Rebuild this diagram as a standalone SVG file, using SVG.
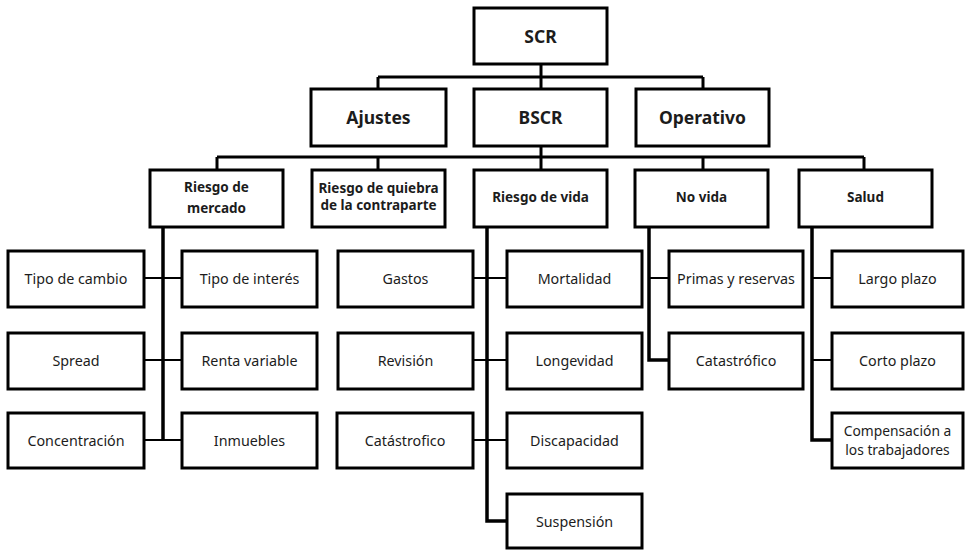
<svg xmlns="http://www.w3.org/2000/svg" width="966" height="550" viewBox="0 0 966 550">
  <style>
    .box { fill: #fff; stroke: #000; stroke-width: 3; }
    .t { font-family: "Noto Sans", "Open Sans", sans-serif; fill: #1c1c1c; text-anchor: middle; dominant-baseline: central; }
    .h1 { font-size: 17.5px; font-weight: bold; }
    .h2 { font-size: 13.5px; font-weight: bold; }
    .lf { font-size: 14.3px; }
    .lf2 { font-size: 13.8px; }
    .trunk { fill: none; stroke: #000; stroke-width: 3; }
    .spine { fill: none; stroke: #000; stroke-width: 3.5; }
    .twig { fill: none; stroke: #000; stroke-width: 2; }
  </style>

  <!-- connectors -->
  <g id="connectors">
    <path class="trunk" d="M541 64V77M378 77H703M378 77V88M703 77V88M541 77V88"/>
    <path class="trunk" d="M541 146V157M217 157H864M217 157V169M378 157V169M541 157V169M703 157V169M864 157V169"/>
    <!-- Riesgo de mercado -->
    <path class="spine" d="M163 227V440"/>
    <path class="twig" d="M144 278H182M144 360H182M144 440H182"/>
    <!-- Riesgo de vida -->
    <path class="spine" d="M487 227V521H507"/>
    <path class="twig" d="M473 278H507M473 360H507M473 440H507"/>
    <!-- No vida -->
    <path class="spine" d="M649 227V360H669"/>
    <path class="twig" d="M649 278H669"/>
    <!-- Salud -->
    <path class="spine" d="M812 227V440H832"/>
    <path class="twig" d="M812 278H832M812 360H832"/>
  </g>

  <!-- top -->
  <g id="scr"><rect class="box" x="474" y="8" width="133" height="56"/><text class="t h1" x="540.5" y="36">SCR</text></g>

  <!-- level 1 -->
  <g id="ajustes"><rect class="box" x="311" y="89" width="135" height="57"/><text class="t h1" x="378.5" y="117">Ajustes</text></g>
  <g id="bscr"><rect class="box" x="474" y="89" width="133" height="57"/><text class="t h1" x="540.5" y="117">BSCR</text></g>
  <g id="operativo"><rect class="box" x="636" y="89" width="133" height="57"/><text class="t h1" x="702.5" y="117">Operativo</text></g>

  <!-- level 2 -->
  <g id="mercado"><rect class="box" x="150" y="170" width="133" height="57"/><text class="t h2" x="216.5" y="187">Riesgo de</text><text class="t h2" x="216.5" y="208">mercado</text></g>
  <g id="contraparte"><rect class="box" x="312" y="170" width="133" height="57"/><text class="t h2" x="378.5" y="188">Riesgo de quiebra</text><text class="t h2" x="378.5" y="205">de la contraparte</text></g>
  <g id="vida"><rect class="box" x="474" y="170" width="133" height="57"/><text class="t h2" x="540.5" y="197">Riesgo de vida</text></g>
  <g id="novida"><rect class="box" x="635" y="170" width="133" height="57"/><text class="t h2" x="701.5" y="197">No vida</text></g>
  <g id="salud"><rect class="box" x="799" y="170" width="133" height="57"/><text class="t h2" x="865.5" y="197">Salud</text></g>

  <!-- market risk leaves -->
  <g id="tipo-cambio"><rect class="box" x="8" y="251" width="136" height="56"/><text class="t lf" x="76" y="278">Tipo de cambio</text></g>
  <g id="tipo-interes"><rect class="box" x="182" y="251" width="135" height="56"/><text class="t lf" x="249.5" y="278">Tipo de interés</text></g>
  <g id="spread"><rect class="box" x="8" y="333" width="136" height="56"/><text class="t lf" x="76" y="360">Spread</text></g>
  <g id="renta-variable"><rect class="box" x="182" y="333" width="135" height="56"/><text class="t lf" x="249.5" y="360">Renta variable</text></g>
  <g id="concentracion"><rect class="box" x="8" y="413" width="136" height="55"/><text class="t lf" x="76" y="440">Concentración</text></g>
  <g id="inmuebles"><rect class="box" x="182" y="413" width="135" height="55"/><text class="t lf" x="249.5" y="440">Inmuebles</text></g>

  <!-- life risk leaves -->
  <g id="gastos"><rect class="box" x="338" y="251" width="135" height="56"/><text class="t lf" x="405.5" y="278">Gastos</text></g>
  <g id="mortalidad"><rect class="box" x="507" y="251" width="135" height="56"/><text class="t lf" x="574.5" y="278">Mortalidad</text></g>
  <g id="revision"><rect class="box" x="338" y="333" width="135" height="56"/><text class="t lf" x="405.5" y="360">Revisión</text></g>
  <g id="longevidad"><rect class="box" x="507" y="333" width="135" height="56"/><text class="t lf" x="574.5" y="360">Longevidad</text></g>
  <g id="catastrofico-vida"><rect class="box" x="337" y="413" width="136" height="55"/><text class="t lf" x="405" y="440">Catástrofico</text></g>
  <g id="discapacidad"><rect class="box" x="507" y="413" width="135" height="55"/><text class="t lf" x="574.5" y="440">Discapacidad</text></g>
  <g id="suspension"><rect class="box" x="507" y="494" width="135" height="54"/><text class="t lf" x="574.5" y="521">Suspensión</text></g>

  <!-- non-life leaves -->
  <g id="primas"><rect class="box" x="669" y="251" width="134" height="56"/><text class="t lf" x="736" y="278">Primas y reservas</text></g>
  <g id="catastrofico-novida"><rect class="box" x="669" y="333" width="134" height="56"/><text class="t lf" x="736" y="360">Catastrófico</text></g>

  <!-- health leaves -->
  <g id="largo"><rect class="box" x="832" y="251" width="131" height="56"/><text class="t lf" x="897.5" y="278">Largo plazo</text></g>
  <g id="corto"><rect class="box" x="832" y="333" width="131" height="56"/><text class="t lf" x="897.5" y="360">Corto plazo</text></g>
  <g id="compensacion"><rect class="box" x="832" y="413" width="131" height="55"/><text class="t lf2" x="897.5" y="430.5">Compensación a</text><text class="t lf2" x="897.5" y="449.5">los trabajadores</text></g>
</svg>
